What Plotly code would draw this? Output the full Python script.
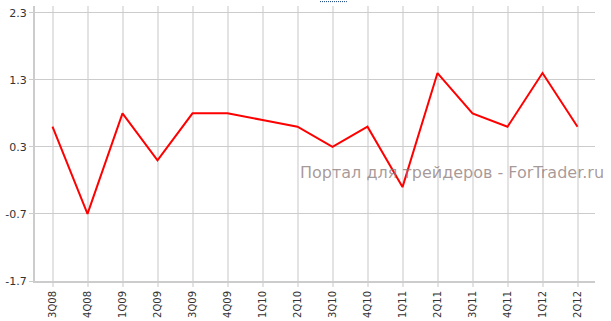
import plotly.graph_objects as go

categories = ["3Q08", "4Q08", "1Q09", "2Q09", "3Q09", "4Q09", "1Q10", "2Q10",
              "3Q10", "4Q10", "1Q11", "2Q11", "3Q11", "4Q11", "1Q12", "2Q12"]
values = [0.6, -0.7, 0.8, 0.1, 0.8, 0.8, 0.7, 0.6, 0.3, 0.6, -0.3, 1.4, 0.8, 0.6, 1.4, 0.6]
y_ticks = [-1.7, -0.7, 0.3, 1.3, 2.3]
y_tick_labels = ["-1.7", "-0.7", "0.3", "1.3", "2.3"]
watermark = "Портал для трейдеров - ForTrader.ru"

fig = go.Figure()
fig.add_trace(go.Scatter(x=categories, y=values, mode="lines",
                         line=dict(color="#ff0000", width=2), hoverinfo="skip"))

fig.update_layout(
    width=611, height=321,
    margin=dict(l=35, r=16, t=6, b=40, autoexpand=False),
    plot_bgcolor="white", paper_bgcolor="white",
    showlegend=False,
    font=dict(family="DejaVu Sans", size=10, color="#222222"),
    xaxis=dict(
        type="category", range=[-0.5, 15.5], automargin=False,
        showgrid=True, gridcolor="#e3e3e3", gridwidth=2,
        showline=True, linecolor="#cccccc", linewidth=2,
        ticks="outside", ticklen=4, tickcolor="#e3e3e3", tickwidth=2,
        tickangle=-90, tickfont=dict(size=10, color="#333333"),
        zeroline=False, fixedrange=True,
    ),
    yaxis=dict(
        range=[-1.7, 2.4], automargin=False,
        tickvals=y_ticks, ticktext=y_tick_labels,
        showgrid=True, gridcolor="#cccccc", gridwidth=1,
        showline=True, linecolor="#cccccc", linewidth=2,
        ticks="outside", ticklen=4, tickcolor="#cccccc", tickwidth=1,
        tickfont=dict(size=11, color="#333333"),
        zeroline=False, fixedrange=True,
    ),
)

fig.add_annotation(text=watermark, xref="paper", yref="paper",
                   x=1.02, y=0.396, xanchor="right", yanchor="middle",
                   showarrow=False,
                   font=dict(family="DejaVu Sans", size=16, color="rgba(140,120,120,0.75)"))

fig.add_shape(type="line", xref="paper", yref="paper",
              x0=0.509, x1=0.557, y0=1.016, y1=1.016,
              line=dict(color="#0b3a7a", width=1, dash="1px,1px"))

fig.write_html("out.html")
